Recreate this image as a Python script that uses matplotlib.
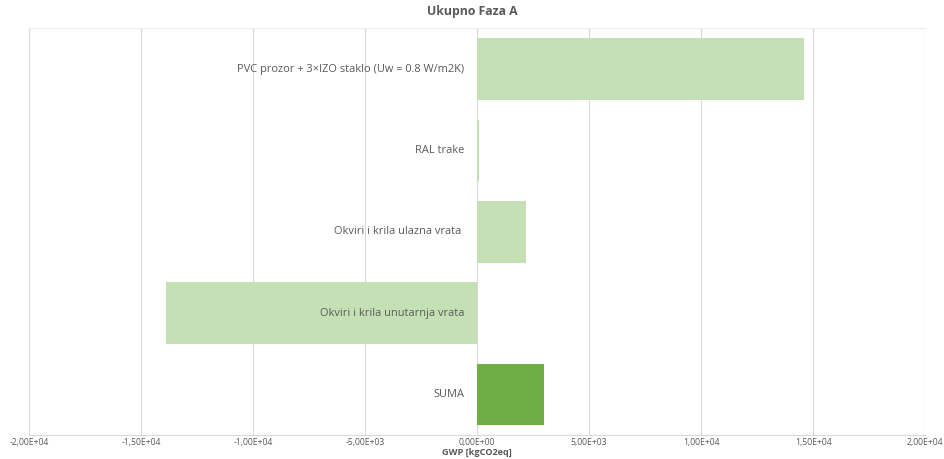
import matplotlib.pyplot as plt
from matplotlib.ticker import FuncFormatter

plt.rcParams['font.family'] = ['Open Sans', 'DejaVu Sans']

# kategorije i vrijednosti GWP [kgCO2eq]
kategorije = ['PVC prozor + 3×IZO staklo (Uw = 0.8 W/m2K)',
              'RAL trake',
              'Okviri i krila ulazna vrata ',
              'Okviri i krila unutarnja vrata',
              'SUMA']
vrijednosti = [14600, 80, 2190, -13880, 2990]
boje = ['#C5E0B4', '#C5E0B4', '#C5E0B4', '#C5E0B4', '#70AD47']
x_ticks = [-20000, -15000, -10000, -5000, 0, 5000, 10000, 15000, 20000]

fig = plt.figure(figsize=(9.44, 4.59), dpi=100)
ax = fig.add_axes([0.0307, 0.052, 0.9492, 0.886])

pozicije = list(range(len(kategorije)))
ax.barh(pozicije, vrijednosti, height=0.76, color=boje, zorder=2)

ax.set_xlim(-20000, 20000)
ax.set_ylim(len(kategorije) - 0.5, -0.5)
ax.set_xticks(x_ticks)


def sci_zarez(v, pos):
    return f'{v:.2E}'.replace('.', ',')


ax.xaxis.set_major_formatter(FuncFormatter(sci_zarez))
ax.tick_params(axis='x', length=0, labelsize=6.2, labelcolor='#595959', pad=2)
ax.set_yticks([])

ax.grid(axis='x', color='#D9D9D9', linewidth=0.8, zorder=0)
ax.set_axisbelow(True)
for s in ['left', 'right']:
    ax.spines[s].set_visible(False)
ax.spines['bottom'].set_color('#D9D9D9')
ax.spines['top'].set_color('#EDEDED')

# natpisi kategorija uz nultu os
for i, k in enumerate(kategorije):
    ax.annotate(k, xy=(0, i), xytext=(-9, 0), textcoords='offset points',
                ha='right', va='center', fontsize=7.9, color='#595959', zorder=5)

ax.set_xlabel('GWP [kgCO2eq]', fontsize=6.6, fontweight='bold', color='#595959', labelpad=1)
fig.suptitle('Ukupno Faza A', fontsize=8.8, fontweight='bold', color='#595959', y=0.99)

plt.savefig('out.png', dpi=100)
